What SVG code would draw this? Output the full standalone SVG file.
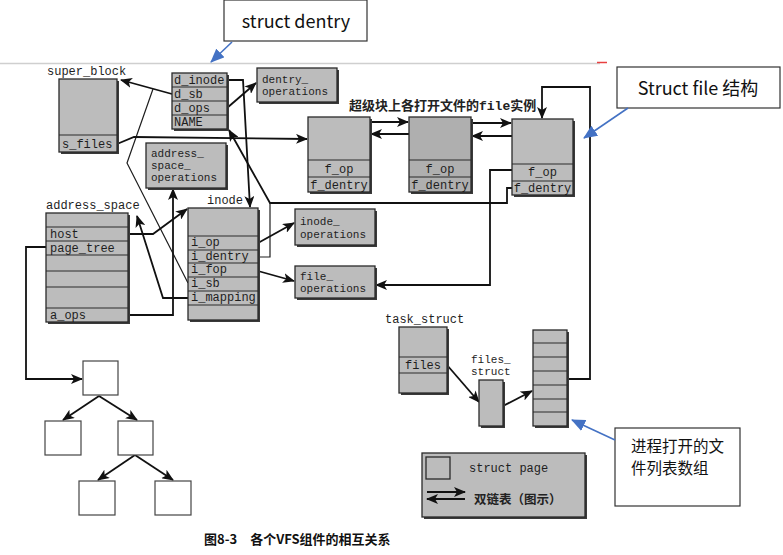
<svg xmlns="http://www.w3.org/2000/svg" width="783" height="555" viewBox="0 0 783 555">
<style>
.bx{fill:#bcbcbc;stroke:#2a2a2a;stroke-width:1.3}
.sh{fill:#3a3a3a}
.rl{stroke:#2a2a2a;stroke-width:1.2}
.t{font-family:"Liberation Mono","DejaVu Sans Mono",monospace;font-size:12px;fill:#1e1e1e}
.m{font-size:11px}
.tc{text-anchor:middle}
.ln{fill:none;stroke:#1e1e1e;stroke-width:1.2}
.ar{fill:none;stroke:#111;stroke-width:1.8;marker-end:url(#ah)}
.tb{fill:#fff;stroke:#444;stroke-width:1.2}
.co{fill:#fff;stroke:#333;stroke-width:1.2}
.ct{font-family:"Noto Sans CJK SC","Noto Sans",sans-serif;fill:#111}
.bl{fill:none;stroke:#4472c4;stroke-width:1.6;marker-end:url(#bh)}
</style>
<defs>
<marker id="ah" markerUnits="userSpaceOnUse" markerWidth="12" markerHeight="10" refX="11" refY="5" orient="auto"><path d="M0,0 L12,5 L0,10 L3,5 Z" fill="#111"/></marker>
<marker id="bh" markerUnits="userSpaceOnUse" markerWidth="14" markerHeight="12" refX="13" refY="6" orient="auto"><path d="M0,0 L14,6 L0,12 Z" fill="#4472c4"/></marker>
</defs>
<rect width="783" height="555" fill="#fff"/>
<line x1="0" y1="63.5" x2="600" y2="63.5" stroke="#cfcfcf" stroke-width="1.5"/>
<line x1="597" y1="62.5" x2="607" y2="62.5" stroke="#e84040" stroke-width="1.5"/>

<g id="connectors">
<polyline class="ar" points="172,94 121,80"/>
<polyline class="ln" points="188,283 127,163 153,89"/>
<polyline class="ar" points="227,80 243,80 250,207"/>
<polyline class="ar" points="227,108 256,83"/>
<polyline class="ar" points="117,144 134,137 307,139"/>
<polyline class="ar" points="512,188 507,188 507,203 270,203 229,130"/>
<polyline class="ln" points="258,257 270,257 270,203"/>
<polyline class="ar" points="258,243 294,223"/>
<polyline class="ar" points="258,271 294,281"/>
<polyline class="ar" points="512,170 490,170 490,285 376,285"/>
<polyline class="ar" points="128,234 153,234 187,209"/>
<polyline class="ar" points="128,315 173,315 173,189"/>
<polyline class="ar" points="188,298 163,298 137,216"/>
<polyline class="ar" points="46,247 26,247 26,379 82,379"/>
<polyline class="ar" points="99,396 63,420"/>
<polyline class="ar" points="99,396 137,420"/>
<polyline class="ar" points="135,455 98,480"/>
<polyline class="ar" points="135,455 173,480"/>
<polyline class="ar" points="370,122 408,122"/>
<polyline class="ar" points="409,134 371,134"/>
<polyline class="ar" points="471,123 511,123"/>
<polyline class="ar" points="512,136 472,136"/>
<polyline class="ar" points="567,379 590,379 590,87 542,87 542,118"/>
<polyline class="ar" points="447,365 479,402"/>
<polyline class="ar" points="503,406 532,391"/>
</g>

<g id="super_block">
<text class="t" x="47" y="75">super_block</text>
<rect class="sh" x="61" y="81" width="58" height="73"/>
<rect class="bx" x="59" y="79" width="58" height="73"/>
<line class="rl" x1="59" y1="135" x2="117" y2="135"/>
<text class="t" x="62" y="148">s_files</text>
</g>

<g id="dentry">
<rect class="sh" x="174" y="75" width="55" height="56"/>
<rect class="bx" x="172" y="73" width="55" height="56"/>
<line class="rl" x1="172" y1="87" x2="227" y2="87"/>
<line class="rl" x1="172" y1="101" x2="227" y2="101"/>
<line class="rl" x1="172" y1="115" x2="227" y2="115"/>
<text class="t" x="174" y="84">d_inode</text>
<text class="t" x="174" y="98">d_sb</text>
<text class="t" x="174" y="112">d_ops</text>
<text class="t" x="174" y="126">NAME</text>
</g>

<g id="dentry_operations">
<rect class="sh" x="259" y="70" width="80" height="34"/>
<rect class="bx" x="257" y="68" width="80" height="34"/>
<text class="t m" x="262" y="83">dentry_</text>
<text class="t m" x="262" y="95">operations</text>
</g>

<g id="address_space_operations">
<rect class="sh" x="148" y="145" width="80" height="45"/>
<rect class="bx" x="146" y="143" width="80" height="45"/>
<text class="t m" x="151" y="157">address_</text>
<text class="t m" x="151" y="169">space_</text>
<text class="t m" x="151" y="181">operations</text>
</g>

<g id="inode">
<text class="t" x="207" y="204">inode</text>
<rect class="sh" x="190" y="210" width="70" height="112"/>
<rect class="bx" x="188" y="208" width="70" height="112"/>
<line class="rl" x1="188" y1="236" x2="258" y2="236"/>
<line class="rl" x1="188" y1="250" x2="258" y2="250"/>
<line class="rl" x1="188" y1="263" x2="258" y2="263"/>
<line class="rl" x1="188" y1="277" x2="258" y2="277"/>
<line class="rl" x1="188" y1="291" x2="258" y2="291"/>
<line class="rl" x1="188" y1="305" x2="258" y2="305"/>
<text class="t" x="191" y="246">i_op</text>
<text class="t" x="191" y="260">i_dentry</text>
<text class="t" x="191" y="273">i_fop</text>
<text class="t" x="191" y="287">i_sb</text>
<text class="t" x="191" y="301">i_mapping</text>
</g>

<g id="address_space">
<text class="t" x="46" y="209">address_space</text>
<rect class="sh" x="48" y="215" width="82" height="109"/>
<rect class="bx" x="46" y="213" width="82" height="109"/>
<line class="rl" x1="46" y1="227" x2="128" y2="227"/>
<line class="rl" x1="46" y1="241" x2="128" y2="241"/>
<line class="rl" x1="46" y1="255" x2="128" y2="255"/>
<line class="rl" x1="46" y1="271" x2="128" y2="271"/>
<line class="rl" x1="46" y1="287" x2="128" y2="287"/>
<line class="rl" x1="46" y1="308" x2="128" y2="308"/>
<text class="t" x="50" y="238">host</text>
<text class="t" x="50" y="252">page_tree</text>
<text class="t" x="50" y="319">a_ops</text>
</g>

<g id="inode_operations">
<rect class="sh" x="297" y="211" width="80" height="36"/>
<rect class="bx" x="295" y="209" width="80" height="36"/>
<text class="t m" x="300" y="225">inode_</text>
<text class="t m" x="300" y="238">operations</text>
</g>

<g id="file_operations">
<rect class="sh" x="297" y="268" width="80" height="32"/>
<rect class="bx" x="295" y="266" width="80" height="32"/>
<text class="t m" x="300" y="280">file_</text>
<text class="t m" x="300" y="292">operations</text>
</g>

<g id="file_label">
<text x="349" y="110" font-family="Noto Sans CJK SC,sans-serif" font-size="13" font-weight="bold" fill="#222">超级块上各打开文件的<tspan font-family="Liberation Mono,monospace" font-size="13">file</tspan>实例</text>
</g>

<g id="file1">
<rect class="sh" x="310" y="119" width="62" height="75"/>
<rect class="bx" x="308" y="117" width="62" height="75"/>
<line class="rl" x1="308" y1="160" x2="370" y2="160"/>
<line class="rl" x1="308" y1="177" x2="370" y2="177"/>
<text class="t tc" x="339" y="173">f_op</text>
<text class="t tc" x="339" y="189">f_dentry</text>
</g>

<g id="file2">
<rect class="sh" x="411" y="119" width="62" height="75"/>
<rect class="bx" x="409" y="117" width="62" height="75" style="fill:#afafaf"/>
<line class="rl" x1="409" y1="160" x2="471" y2="160"/>
<line class="rl" x1="409" y1="177" x2="471" y2="177"/>
<text class="t tc" x="440" y="173">f_op</text>
<text class="t tc" x="440" y="189">f_dentry</text>
</g>

<g id="file3">
<rect class="sh" x="514" y="121" width="61" height="76"/>
<rect class="bx" x="512" y="119" width="61" height="76"/>
<line class="rl" x1="512" y1="164" x2="573" y2="164"/>
<line class="rl" x1="512" y1="181" x2="573" y2="181"/>
<text class="t tc" x="542.5" y="176">f_op</text>
<text class="t tc" x="542.5" y="192">f_dentry</text>
</g>

<g id="tree">
<rect class="tb" x="83" y="361" width="35" height="34"/>
<rect class="tb" x="45" y="421" width="36" height="34"/>
<rect class="tb" x="118" y="421" width="35" height="34"/>
<rect class="tb" x="79" y="481" width="36" height="34"/>
<rect class="tb" x="155" y="481" width="36" height="34"/>
</g>

<g id="task_struct">
<text class="t" x="385" y="323">task_struct</text>
<rect class="sh" x="401" y="329" width="48" height="66"/>
<rect class="bx" x="399" y="327" width="48" height="66"/>
<line class="rl" x1="399" y1="357" x2="447" y2="357"/>
<line class="rl" x1="399" y1="373" x2="447" y2="373"/>
<text class="t" x="405" y="369">files</text>
</g>

<g id="files_struct">
<text class="t m" x="471" y="363">files_</text>
<text class="t m" x="471" y="375">struct</text>
<rect class="sh" x="481" y="382" width="24" height="46"/>
<rect class="bx" x="479" y="380" width="24" height="46"/>
</g>

<g id="fd_array">
<rect class="sh" x="535" y="332" width="34" height="96"/>
<rect class="bx" x="533" y="330" width="34" height="96"/>
<line class="rl" x1="533" y1="343" x2="567" y2="343"/>
<line class="rl" x1="533" y1="357" x2="567" y2="357"/>
<line class="rl" x1="533" y1="371" x2="567" y2="371"/>
<line class="rl" x1="533" y1="385" x2="567" y2="385"/>
<line class="rl" x1="533" y1="399" x2="567" y2="399"/>
<line class="rl" x1="533" y1="412" x2="567" y2="412"/>
</g>

<g id="legend">
<rect class="sh" x="424" y="455" width="163" height="64"/>
<rect class="bx" x="422" y="453" width="163" height="64"/>
<rect class="bx" x="426" y="457" width="24" height="22"/>
<text class="t" x="469" y="472">struct page</text>
<line class="ar" x1="427" y1="492" x2="465" y2="492"/>
<line class="ar" x1="465" y1="499" x2="427" y2="499"/>
<text x="474" y="504" font-family="Noto Sans CJK SC,sans-serif" font-size="12.5" font-weight="bold" fill="#222">双链表（图示）</text>
</g>

<g id="caption">
<text x="204" y="544" font-family="Noto Sans CJK SC,sans-serif" font-size="13" font-weight="bold" fill="#111">图8-3　各个VFS组件的相互关系</text>
</g>

<g id="callout_dentry">
<rect class="co" x="224" y="0" width="143" height="41"/>
<text class="ct" x="296" y="28" font-size="18" text-anchor="middle">struct dentry</text>
<line class="bl" x1="232" y1="42" x2="211" y2="62"/>
</g>

<g id="callout_file">
<rect class="co" x="617" y="67" width="163" height="41"/>
<text class="ct" x="698" y="95" font-size="18" text-anchor="middle">Struct file 结构</text>
<line class="bl" x1="628" y1="108" x2="584" y2="138"/>
</g>

<g id="callout_fdarray">
<rect class="co" x="615" y="428" width="125" height="78"/>
<text class="ct" x="631" y="452" font-size="15.5">进程打开的文</text>
<text class="ct" x="631" y="474" font-size="15.5">件列表数组</text>
<line class="bl" x1="615" y1="440" x2="572" y2="420"/>
</g>
</svg>
